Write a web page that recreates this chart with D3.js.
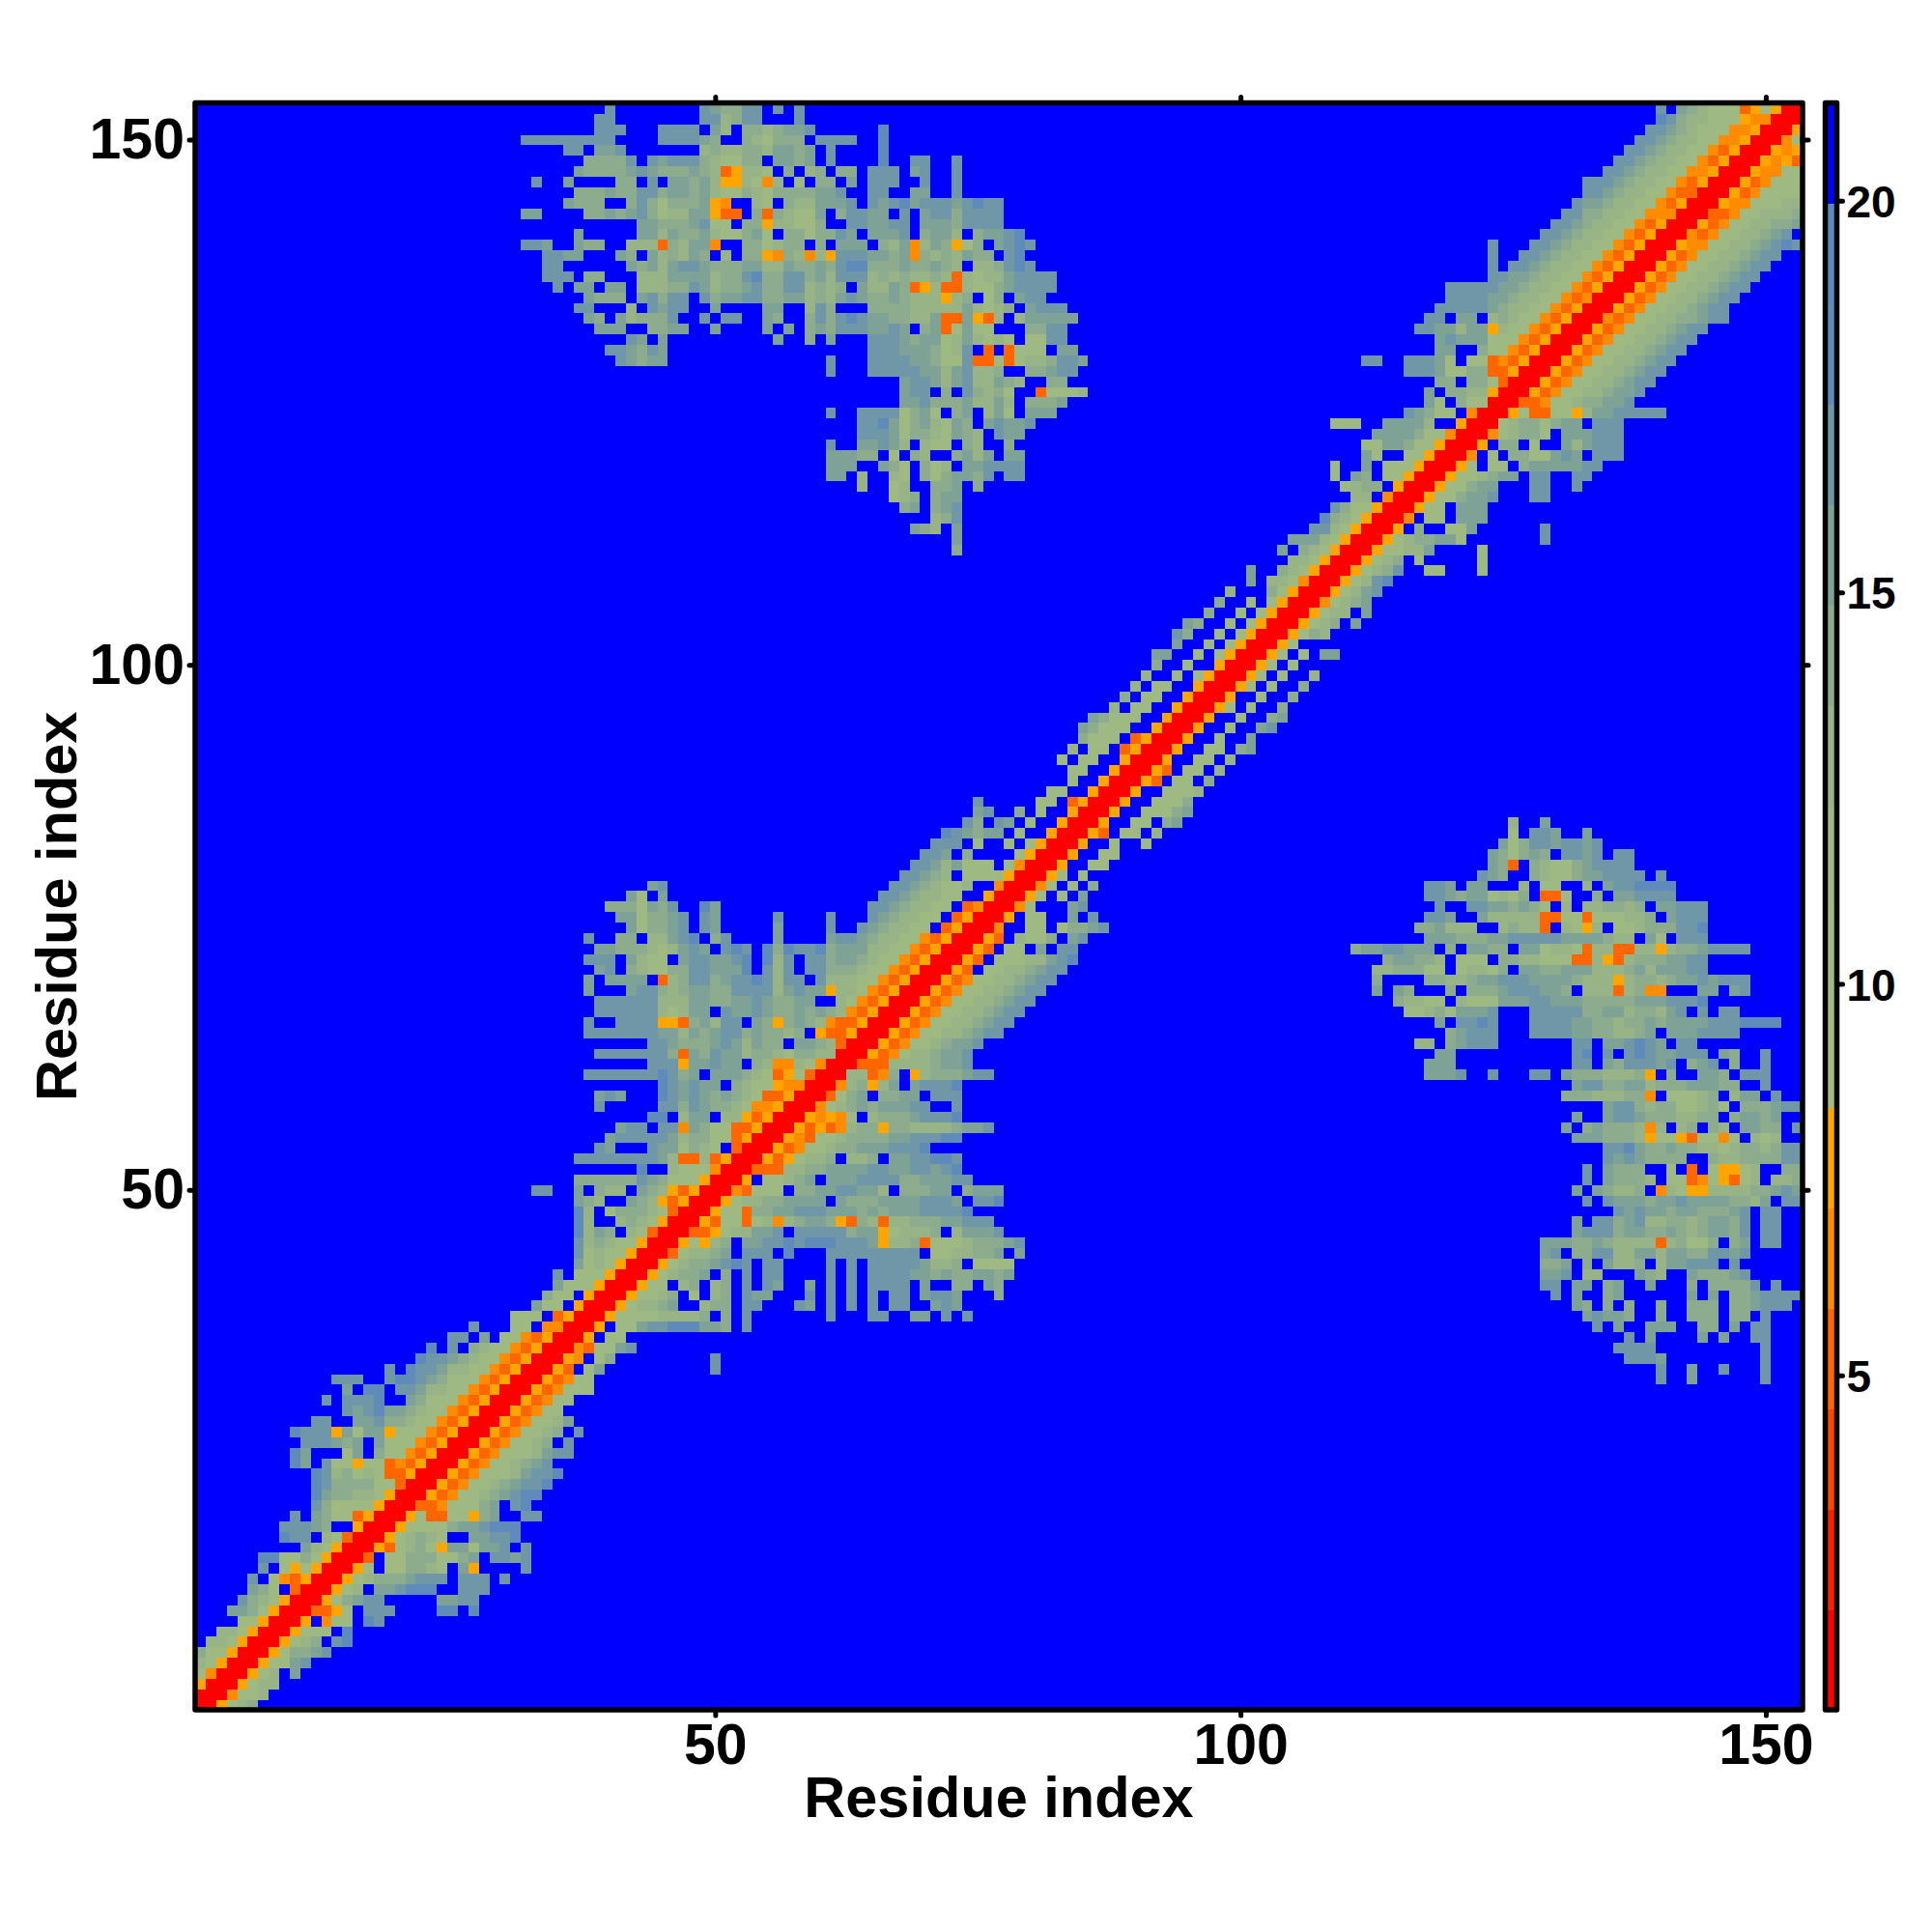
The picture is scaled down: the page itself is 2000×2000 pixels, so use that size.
<!DOCTYPE html>
<html><head><meta charset="utf-8">
<script src="https://cdnjs.cloudflare.com/ajax/libs/d3/7.8.5/d3.min.js"></script>
<style>html,body{margin:0;padding:0;background:#fff}svg{display:block}text{font-family:"Liberation Sans",Arial,sans-serif;font-weight:700;fill:#000}</style>
</head><body><svg id="c" width="2000" height="2000"></svg>
<script>
const residueCount = 153;
const xTicks = [50, 100, 150];
const yTicks = [50, 100, 150];
const barTicks = [5, 10, 15, 20];
const xTitle = "Residue index";
const yTitle = "Residue index";
const distanceDomain = [0.73, 21.25];
const palette = ["#ff0000","#ff2000","#ff4500","#ff6600","#ff8c00","#ffa500","#a6bb7e","#a2ba80","#9fb982","#98b486","#8dac8d","#7fa297","#6f97a8","#5f8bbb","#5b88bd","#0000ff"];
// typed distance (Å) for every code used in the row strings
const codeValue = {r:1.41,d:5.25,o:6.53,y:7.81,"1":9.08,"2":10.36,"3":11.64,"4":12.92,"5":14.2,"6":15.48,"7":16.76,"8":18.04,"9":19.32,".":20.6};
// near-diagonal contacts: entry k holds residue k+1 against residues k+1, k+2, ...
const diagonalRows = [
"rry345","rro334","rry344","rry34.6","rry2367","rry25567","rry345.78","rry333.8","rry.o33.87","rrddy3.777....88.8",
"rry35677.....6677","rry34.667888..777","rry345556777.777.7","rry3.325543.6y....7","rrd.335553356.7767","rryd3453y663667.7","rry34543..66778","rry33335667888","rry3dd33y56..77","rrddo33356.78",
"rrydo33456788","rrydo33456778","rrydo33346778","rrydo334567","rrydo3334677","rrydo3345.7","rrydo3345.7","rrydo3346","rrydo33","rrydo33",
"rrydo333","rrydo33","rryd.36","rryo.35","rrod3367","rry.33","rry.33677888665.7","rry333344445.5.7.......7...77..66.7.7","rry34456..455.77...76.7.7.7.77..676","rry3345.3.45.766...7.7.7.7.77.6776...5",
"rry33.45.45.7.76..6.7.7.7777.6..55.65","rry34556.5.7.77....7.7.77776656556656","rry34556787.77....7.7.777776445.3333","rrd34456.777.8...777777777.3344556.6","rry3y45.6677878887776y445d333455567","rrddy344667.77777566y34445.46667","rryd33d34o45665yd54d4455566777","rry33d556677766656566677778","rry344556666.655566667776.778","rrod333.556677664.55566.5666",
"rry.33456.66677775566677","rrddd44556666776677678","rrydy3445.445.6677887","rrydo334556667778","rryod33455556677788","rrydydo455y5544445667","rryoyo3.455567778","rro3456566677..7","rrd356.5566.777","rro45y46.67778",
"rr44do5.y4555677","rrddd44445667","rrydo3445667","rrydo3345667","rrydo33445677","rrydo33445677","rrydo33445677","rrydo33445677","rrydo33445677","rrydo33445677",
"rryd.33445677","rryd.33344678","rryd.33.6.77","rryd.4335.67","rro..33.35567","rry.33..6.7","rro3...67","rry3.3.6","rro3.3.5","rry3.3",
"rry..33","rry..33","rry..3..3","rryd.33.4","rry..33.56","rry..33356","rry..3335","rry..3334","rryd.33.5","rryd.33.4",
"rry..33.4","rry..33.56","rry..3..6","rry..3..67","rry..3..56","rry3.3..5","rry..3..5","rry3.3..5","rry3.3..4","rry3.3",
"rry3.3.66","rry3","rry354","rry345.6","rry344.6","rro3456","rry3467","rry3478","rry3457..33...3","rry345.3.....3",
"rry33446....3","rry3455663.......7","rry.5..336......7","rro.33.666","rry33.666","rry335667...77","rry33566...77..7","rry334566.77..77","rry3.33.56666677","rro.3.5533676.777",
"rry.55.3..646777","rro34553.666777","rr34553566.777","rry3dd33y46677777","rrddo33455667","rrydo33445667","rrydo33445677","rrydo33445677","rrydo33445677","rrydo33445677",
"rrydo33445677","rrydo33445677","rrodo334455677","rrydo33445677","rrydo33445677","rrydo33445677","rrydo33445677","rrydo33445677","rrydo33445677","rryoo334456787",
"rrodo3344567.","rrydo3344556","rrddo334445","rryoo33344","rrydo3333","rrydo333","rryoo33","rryoyd","rryoy","rro3",
"rry","rr","r"];
// long-range contacts: [residue, first partner residue, codes]
const farContacts = [
[85,126,"4..6"],[84,126,"3.776..6"],[83,125,"6357767767"],[82,124,"653565.7767.77"],[81,124,"65d.5433567777"],
[80,123,"765..54335667777.7"],[79,118,"776.66...4.33..4.6778888"],[78,118,"7765663435.dd3..5.667777"],[77,119,"7..77665653.4.445545.66777"],[76,118,"776..644444dd33d333445.6777"],
[75,117,"556444..4544d.43y4.334555778"],[74,118,"66655566777776666544.63.777"],[73,111,"56677666.5.6655.663443d44dd44y45567777"],[72,114,"566554.333.5544333dd4yd45556677"],[71,113,"4455533.34435.665566644456466677"],
[70,113,"5....554456677766665444y455456676777"],[69,113,"6.65...5.5556777665.444d45oo...66.67"],[68,115,"54433.433366677666555556667778"],[67,116,"334536667...777775566455467.7.77"],[66,119,"6.7787...777766554556566667778888"],
[65,120,"56777...777766554456.6667777"],[64,117,"44.56777.......77.667876.77"],[63,119,"66...........78.7.78766777.65..7"],[62,118,"666...........77.6577767.567.5..7"],[61,118,"6667..7...77.65554445y.5..665.777"],
[60,132,"6775566455566655..7"],[59,131,"55544455o.33345.466.7"],[58,135,"677545533453.555677"],[57,132,"6..67765554455.56656"],[56,131,"6.565554o4.45.54.6655.7"],
[55,132,"6665554y33yd33o3.434"],[54,135,"7786556554434554577"],[53,135,"76765555..544555577"],[52,133,"7.6555..3.d.3yy34..55"],[51,133,"7.65554.33do3yd34.445"],
[50,132,"6.65445.o43yy444455676"],[49,133,"7.7666566766665546.77"],[48,136,"7676656655567.77"],[47,132,"6.775674455456657.77"],[46,132,"67775665565456657.77"],
[45,129,"66655654444d45335.56.77"],[44,129,"67.55774466466557767"],[43,129,"556.5.6445.466777.7"],[42,129,"667.44...654..655567"],[41,129,"77.66.56..6...5.55557.7"],
[40,130,"7.6..56......6.6.5567777"],[39,132,"65.5.5..5..555.556777"],[38,133,"67665..5..555.55.7"],[37,134,"7.6..666..55.6.77"],[36,137,"7.6....6.6..77"],
[35,136,"7777..........7"],[34,137,"7776.........7"],[33,140,"7..6..7...7"],[32,140,"7..6......7"],[34,50,"7"],[33,50,"7"]];

const frame = {left:202, right:1866, top:106.5, bottom:1770};
const x = d3.scaleLinear().domain([0.5, residueCount + 0.5]).range([frame.left, frame.right]);
const y = d3.scaleLinear().domain([0.5, residueCount + 0.5]).range([frame.bottom, frame.top]);
const color = d3.scaleQuantize().domain(distanceDomain).range(palette);
const barY = d3.scaleLinear().domain(distanceDomain).range([frame.bottom, frame.top]);

const matrix = d3.range(residueCount).map(() => new Array(residueCount).fill(codeValue["."]));
function put(a, b, code) {
  if (a > residueCount || b > residueCount) return;
  matrix[a-1][b-1] = codeValue[code];
  matrix[b-1][a-1] = codeValue[code];
}
diagonalRows.forEach((s, k) => [...s].forEach((c, t) => put(k+1, k+1+t, c)));
farContacts.forEach(([r, start, s]) => [...s].forEach((c, t) => put(r, start+t, c)));
const cells = [];
matrix.forEach((row, a) => row.forEach((v, b) => cells.push({col:b+1, row:a+1, v})));

const svg = d3.select("#c");
const cw = x(1.5) - x(0.5), ch = y(0.5) - y(1.5);
svg.append("g").attr("shape-rendering","crispEdges").selectAll("rect").data(cells).join("rect")
  .attr("x", d => x(d.col-0.5)).attr("y", d => y(d.row+0.5))
  .attr("width", cw+0.5).attr("height", ch+0.5).attr("fill", d => color(d.v));

function styleAxis(g) {
  g.select(".domain").remove();
  g.selectAll("line").attr("stroke","#000").attr("stroke-width",5).attr("stroke-linecap","round");
}
svg.append("g").attr("transform",`translate(0,${frame.bottom})`)
  .call(d3.axisBottom(x).tickValues(xTicks).tickSize(6).tickPadding(8)).call(styleAxis)
  .selectAll("text").style("font-size","59px").style("font-family",'"Liberation Sans"').style("font-weight",700).attr("fill","#000");
svg.append("g").attr("transform",`translate(0,${frame.top})`)
  .call(d3.axisTop(x).tickValues(xTicks).tickSize(6).tickFormat("")).call(styleAxis);
svg.append("g").attr("transform",`translate(${frame.left},0)`)
  .call(d3.axisLeft(y).tickValues(yTicks).tickSize(6).tickPadding(5)).call(styleAxis)
  .selectAll("text").style("font-size","59px").style("font-family",'"Liberation Sans"').style("font-weight",700).attr("fill","#000");
svg.append("g").attr("transform",`translate(${frame.right},0)`)
  .call(d3.axisRight(y).tickValues(yTicks).tickSize(6).tickFormat("")).call(styleAxis);

svg.append("rect").attr("x",frame.left).attr("y",frame.top)
  .attr("width",frame.right-frame.left).attr("height",frame.bottom-frame.top)
  .attr("fill","none").attr("stroke","#000").attr("stroke-width",5.5).attr("stroke-linejoin","round");

svg.append("text").attr("x",(frame.left+frame.right)/2).attr("y",1881).attr("text-anchor","middle")
  .style("font-size","59.5px").text(xTitle);
svg.append("text").attr("transform",`translate(79,${(frame.top+frame.bottom)/2}) rotate(-90)`)
  .attr("text-anchor","middle").style("font-size","59.5px").text(yTitle);

// colour bar
const bar = {left:1889.5, right:1901.5};
const bands = palette.map(p => color.invertExtent(p));
svg.append("g").attr("shape-rendering","crispEdges").selectAll("rect").data(bands).join("rect")
  .attr("x",bar.left).attr("width",bar.right-bar.left)
  .attr("y",d => barY(d[1])).attr("height",d => barY(d[0])-barY(d[1])+0.5)
  .attr("fill",d => color((d[0]+d[1])/2));
svg.append("rect").attr("x",bar.left).attr("y",frame.top).attr("width",bar.right-bar.left)
  .attr("height",frame.bottom-frame.top).attr("fill","none").attr("stroke","#000")
  .attr("stroke-width",5.5).attr("stroke-linejoin","round");
svg.append("g").attr("transform",`translate(${bar.right},0)`)
  .call(d3.axisRight(barY).tickValues(barTicks).tickSize(6).tickPadding(4)).call(styleAxis)
  .selectAll("text").attr("dy","0.365em").style("font-size","46px").style("font-family",'"Liberation Sans"').style("font-weight",700).attr("fill","#000");
</script></body></html>
